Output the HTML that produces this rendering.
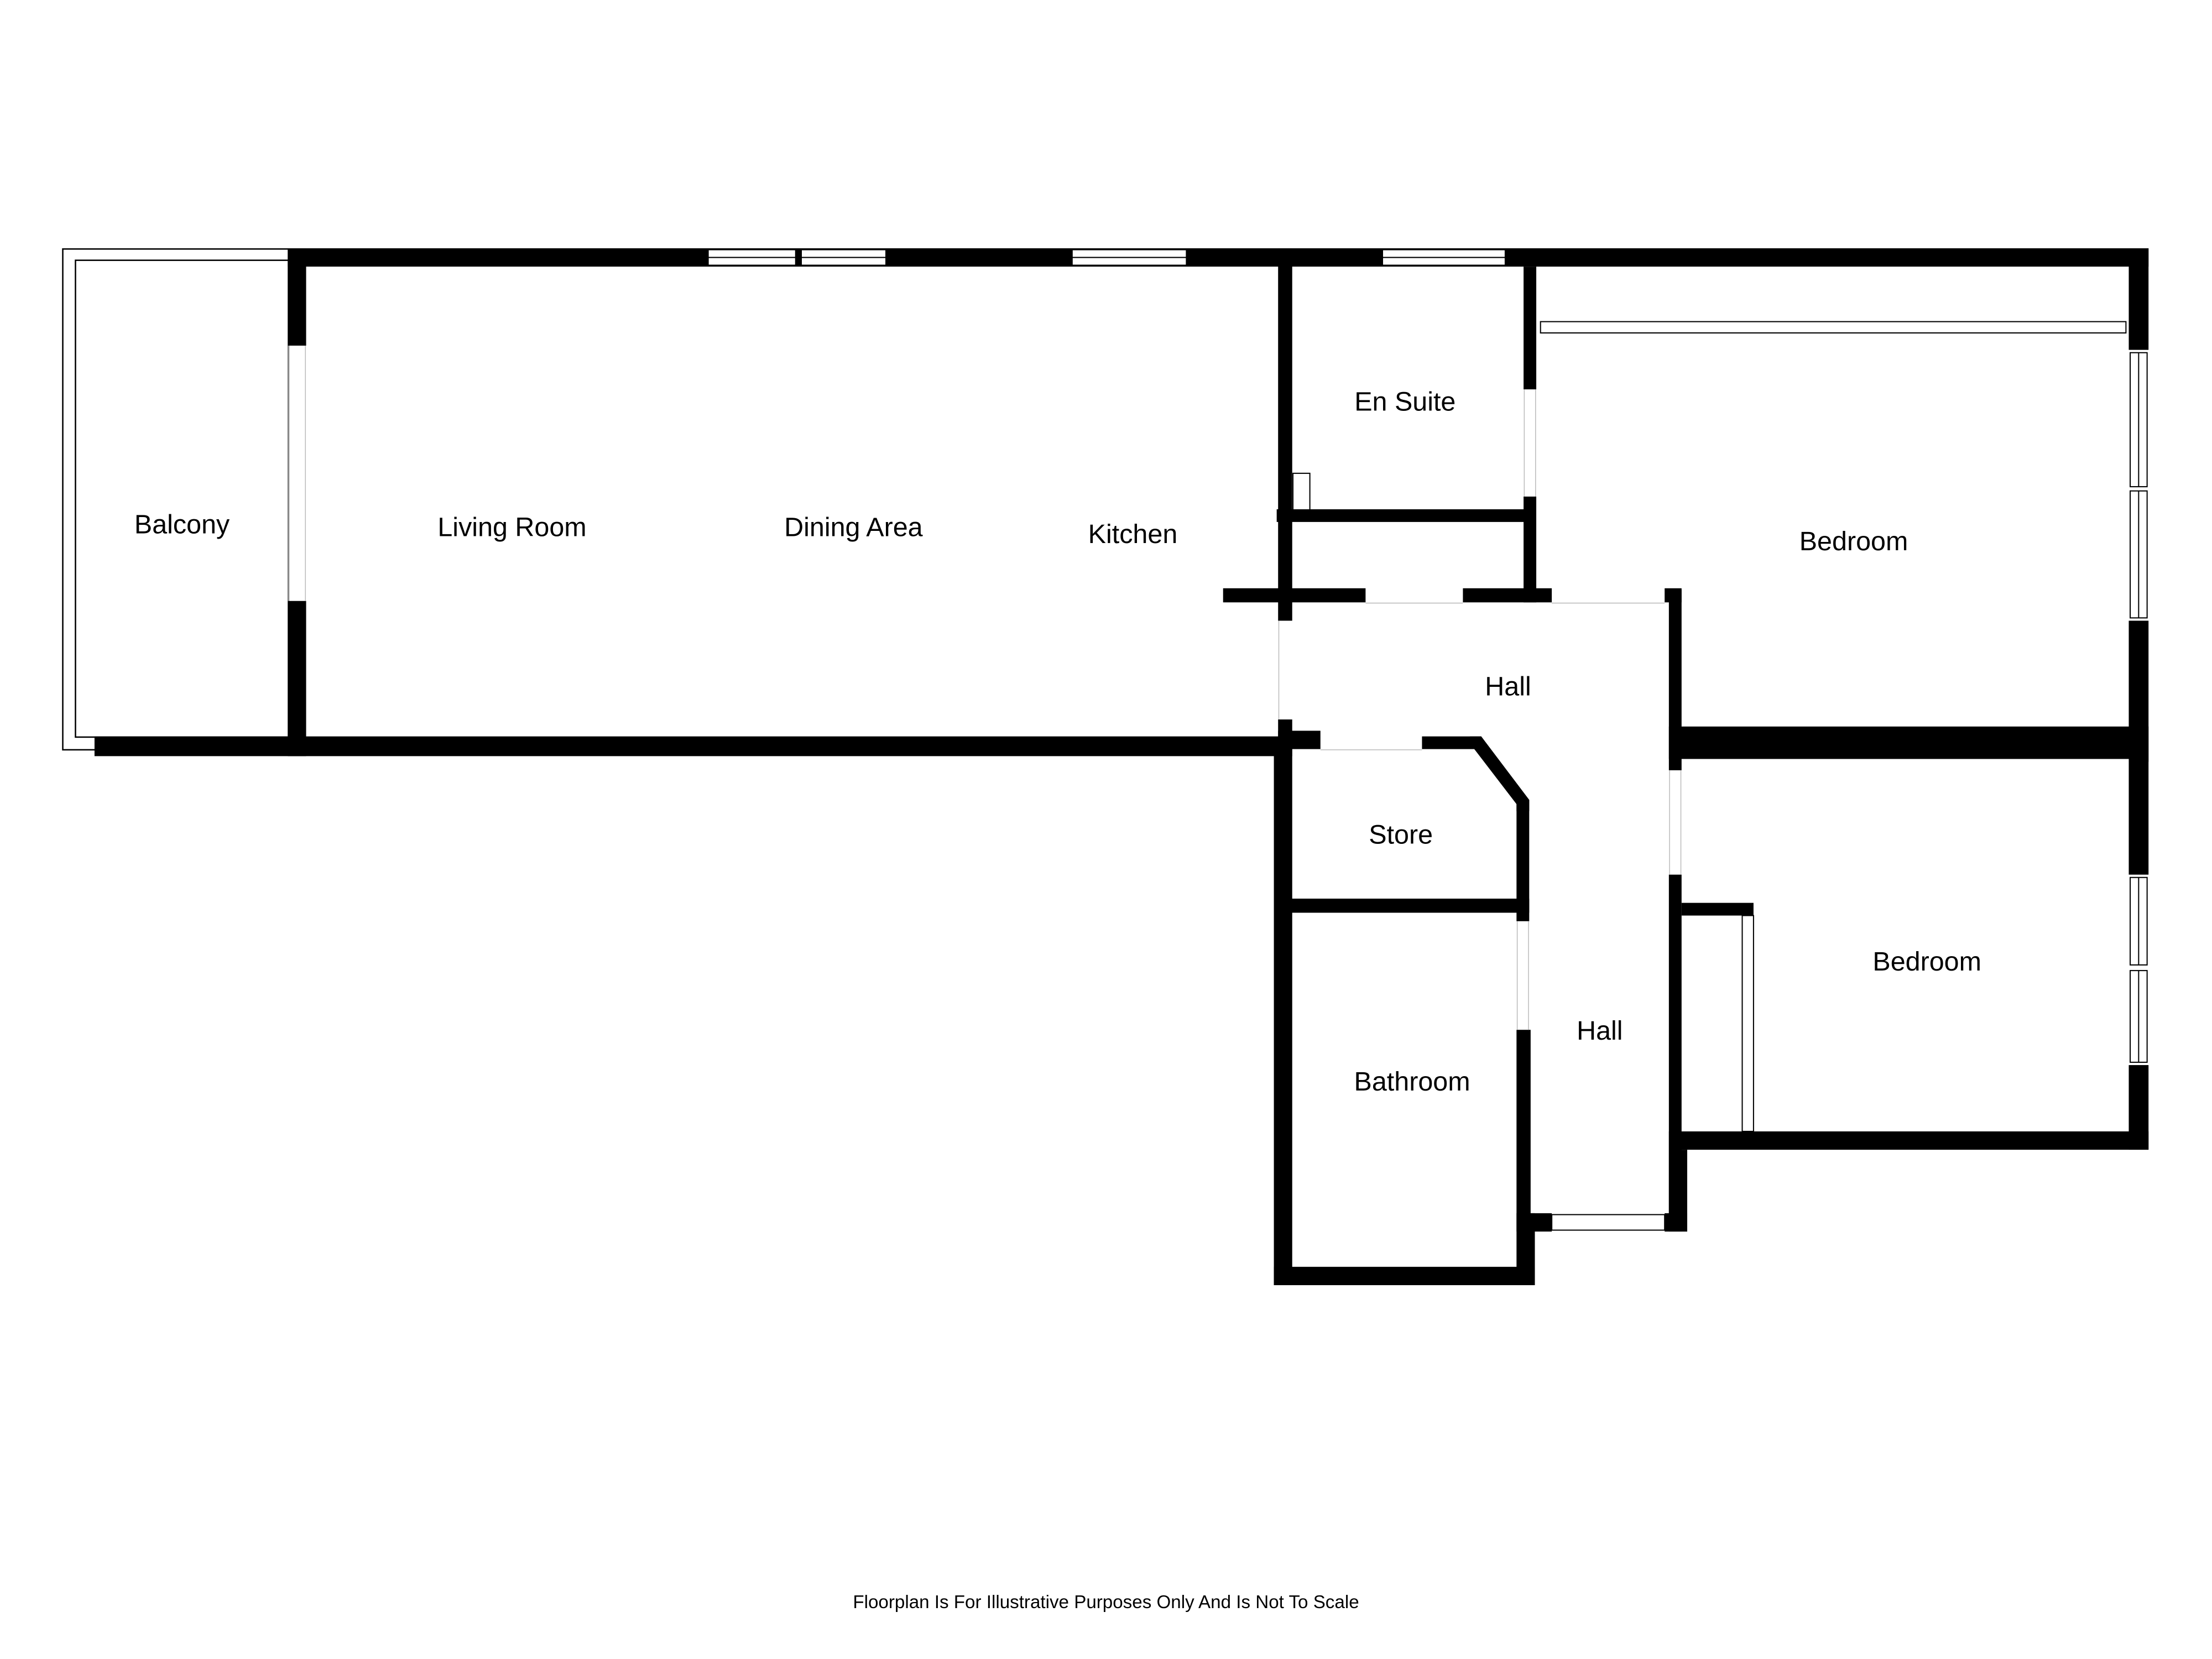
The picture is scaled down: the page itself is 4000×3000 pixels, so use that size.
<!DOCTYPE html>
<html><head><style>html,body{margin:0;padding:0;background:#fff}svg{display:block}</style></head><body>
<svg width="4000" height="3000" viewBox="0 0 1568 1176" xmlns="http://www.w3.org/2000/svg" font-family="'Liberation Sans', sans-serif">
<rect width="1568" height="1176" fill="#fff"/>
<rect x="44.5" y="176.5" width="160" height="355" fill="none" stroke="#000" stroke-width="1"/>
<rect x="53.5" y="184.5" width="151" height="338" fill="none" stroke="#000" stroke-width="1"/>
<g fill="#000">
<rect x="204" y="176" width="1319" height="13"/>
<rect x="204" y="176" width="13" height="69"/>
<rect x="204" y="426" width="13" height="110"/>
<rect x="67" y="522" width="843" height="14"/>
<rect x="906" y="176" width="10" height="264"/>
<rect x="867" y="417" width="101" height="10"/>
<rect x="1037" y="417" width="63" height="10"/>
<rect x="1180" y="417" width="12" height="10"/>
<rect x="1080" y="189" width="9" height="87"/>
<rect x="1080" y="352" width="9" height="75"/>
<rect x="905" y="361" width="180" height="9"/>
<rect x="1509" y="176" width="14" height="72"/>
<rect x="1509" y="440" width="14" height="100"/>
<rect x="1183" y="418" width="9" height="128"/>
<rect x="1183" y="620" width="9" height="253"/>
<rect x="1183" y="515" width="340" height="23"/>
<rect x="1509" y="538" width="14" height="82"/>
<rect x="1509" y="755" width="14" height="60"/>
<rect x="1183" y="802" width="340" height="13"/>
<rect x="1192" y="640" width="51" height="9"/>
<rect x="906" y="510" width="10" height="26"/>
<rect x="906" y="518" width="30" height="13"/>
<rect x="1008" y="522" width="42" height="9"/>
<polygon points="1042,522 1050,522 1084,567 1084,575 1075,575 1075,570 1042,527"/>
<rect x="1075" y="567" width="9" height="86"/>
<rect x="906" y="637" width="178" height="10"/>
<rect x="903" y="530" width="13" height="381"/>
<rect x="903" y="898" width="185" height="13"/>
<rect x="1075" y="730" width="10" height="143"/>
<rect x="1075" y="860" width="13" height="51"/>
<rect x="1084" y="860" width="16" height="13"/>
<rect x="1180" y="860" width="16" height="13"/>
<rect x="1183" y="815" width="13" height="58"/>
</g>
<g fill="#fff" stroke="#000" stroke-width="0.8">
<rect x="502" y="177" width="62" height="11"/><line x1="502" y1="182.5" x2="564" y2="182.5"/>
<rect x="568" y="177" width="60" height="11"/><line x1="568" y1="182.5" x2="628" y2="182.5"/>
<rect x="760" y="177" width="81" height="11"/><line x1="760" y1="182.5" x2="841" y2="182.5"/>
<rect x="980" y="177" width="87" height="11"/><line x1="980" y1="182.5" x2="1067" y2="182.5"/>
<rect x="1510" y="250" width="12" height="95"/><line x1="1516" y1="250" x2="1516" y2="345"/>
<rect x="1510" y="348" width="12" height="90"/><line x1="1516" y1="348" x2="1516" y2="438"/>
<rect x="1510" y="622" width="12" height="62"/><line x1="1516" y1="622" x2="1516" y2="684"/>
<rect x="1510" y="688" width="12" height="65"/><line x1="1516" y1="688" x2="1516" y2="753"/>
<rect x="1100" y="861" width="80" height="11"/>
<rect x="1092" y="228" width="415" height="8"/>
<rect x="1235" y="649" width="8" height="153"/>
</g>
<g fill="none" stroke="#bbb" stroke-width="0.6">
<line x1="204.5" y1="245" x2="204.5" y2="426"/><line x1="216.5" y1="245" x2="216.5" y2="426"/>
<line x1="906.5" y1="440" x2="906.5" y2="510"/>
<line x1="1080.5" y1="276" x2="1080.5" y2="352"/><line x1="1088.5" y1="276" x2="1088.5" y2="352"/>
<line x1="1183.5" y1="546" x2="1183.5" y2="620"/><line x1="1191.5" y1="546" x2="1191.5" y2="620"/>
<line x1="1075.5" y1="653" x2="1075.5" y2="730"/><line x1="1083.5" y1="653" x2="1083.5" y2="730"/>
<line x1="968" y1="427.5" x2="1037" y2="427.5"/><line x1="1100" y1="427.5" x2="1180" y2="427.5"/>
<line x1="936" y1="531.5" x2="1008" y2="531.5"/>
</g>
<rect x="916.5" y="335.5" width="12" height="26" fill="none" stroke="#000" stroke-width="0.8"/>
<g font-size="19" fill="#000" text-anchor="middle">
<text x="129" y="378">Balcony</text>
<text x="363" y="380">Living Room</text>
<text x="605" y="380">Dining Area</text>
<text x="803" y="385">Kitchen</text>
<text x="996" y="291">En Suite</text>
<text x="1314" y="390">Bedroom</text>
<text x="1069" y="493">Hall</text>
<text x="993" y="598">Store</text>
<text x="1366" y="688">Bedroom</text>
<text x="1134" y="737">Hall</text>
<text x="1001" y="773">Bathroom</text>
<text x="784" y="1140" font-size="13">Floorplan Is For Illustrative Purposes Only And Is Not To Scale</text>
</g>
</svg>
</body></html>
